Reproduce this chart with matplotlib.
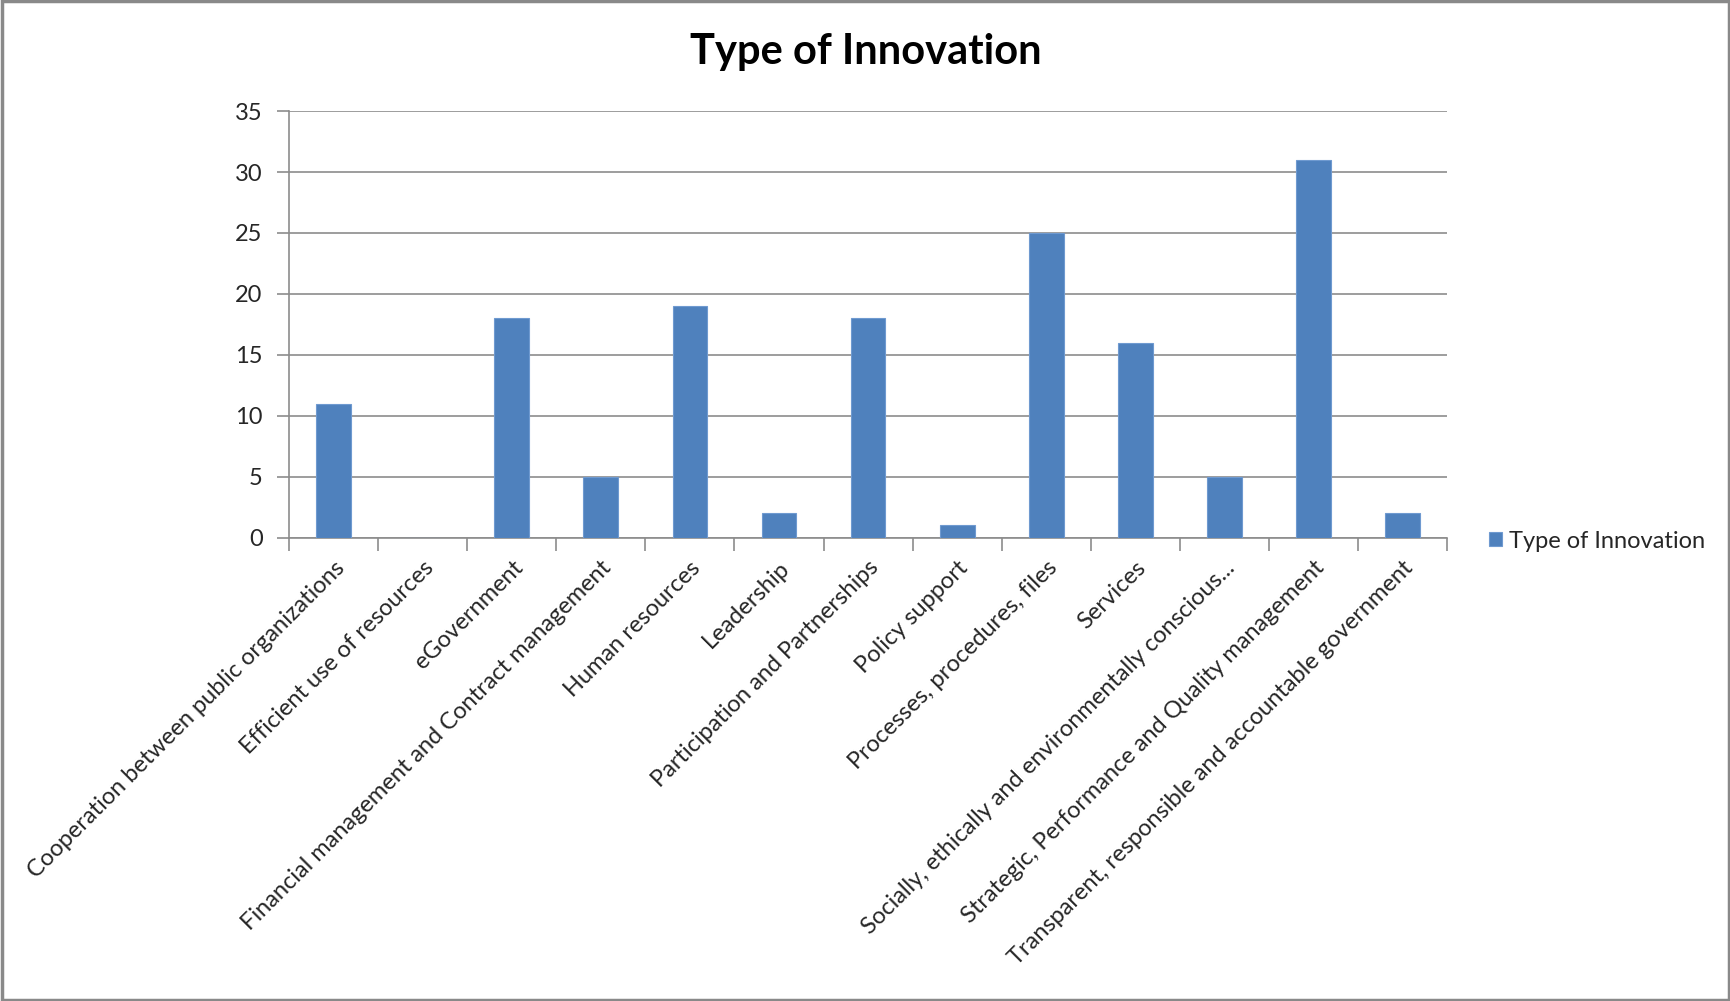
import numpy as np
import matplotlib
matplotlib.use("Agg")
import matplotlib.pyplot as plt
from matplotlib.patches import Rectangle

plt.rcParams['font.family'] = ['Lato', 'DejaVu Sans']

# data
categories = [
    "Cooperation between public organizations",
    "Efficient use of resources",
    "eGovernment",
    "Financial management and Contract management",
    "Human resources",
    "Leadership",
    "Participation and Partnerships",
    "Policy support",
    "Processes, procedures, files",
    "Services",
    "Socially, ethically and environmentally conscious...",
    "Strategic, Performance and Quality management",
    "Transparent, responsible and accountable government",
]
values = [11, 0, 18, 5, 19, 2, 18, 1, 25, 16, 5, 31, 2]
series_name = "Type of Innovation"
y_ticks = [0, 5, 10, 15, 20, 25, 30, 35]

fig = plt.figure(figsize=(17.31, 10.01), dpi=100)
ax = fig.add_axes([0.167, 0.463, 0.669, 0.426])

x = np.arange(len(categories))
ax.bar(x, values, width=0.39, color='#4F81BD', edgecolor='#6F9AD0', linewidth=0.8,
       label=series_name, zorder=3)

ax.set_xlim(-0.5, len(categories) - 0.5)
ax.set_ylim(0, 35)
ax.set_yticks(y_ticks)
ax.yaxis.grid(True, color='#8c8c8c', linewidth=1.2, zorder=0)

ax.set_xticks(x)
ax.set_xticklabels(categories, rotation=45, ha='right', va='top',
                   rotation_mode='anchor', fontsize=17, color='#262626')
ax.tick_params(axis='x', which='major', length=0, pad=14)
ax.set_xticks(np.arange(-0.5, len(categories)), minor=True)
ax.tick_params(axis='x', which='minor', length=9, width=1.2, color='#8c8c8c')
ax.tick_params(axis='y', length=9, width=1.2, color='#8c8c8c', labelsize=17,
               labelcolor='#262626', pad=10)

for s in ['top', 'right']:
    ax.spines[s].set_visible(False)
for s in ['left', 'bottom']:
    ax.spines[s].set_color('#8c8c8c')
    ax.spines[s].set_linewidth(1.2)

fig.text(0.5, 0.948, "Type of Innovation", ha='center', va='center',
         fontsize=30, fontweight='bold', color='black')

fig.legend(loc='center left', bbox_to_anchor=(1489 / 1731, 1 - 541 / 1001), frameon=False,
           fontsize=17, handlelength=0.55, handleheight=0.55, handletextpad=0.3,
           borderpad=0, borderaxespad=0, labelcolor='#262626')

fig.patches.append(Rectangle((0.001, 0.001), 0.998, 0.998, transform=fig.transFigure,
                             fill=False, edgecolor='#898989', linewidth=2.5))

fig.savefig("out.png", dpi=100)
